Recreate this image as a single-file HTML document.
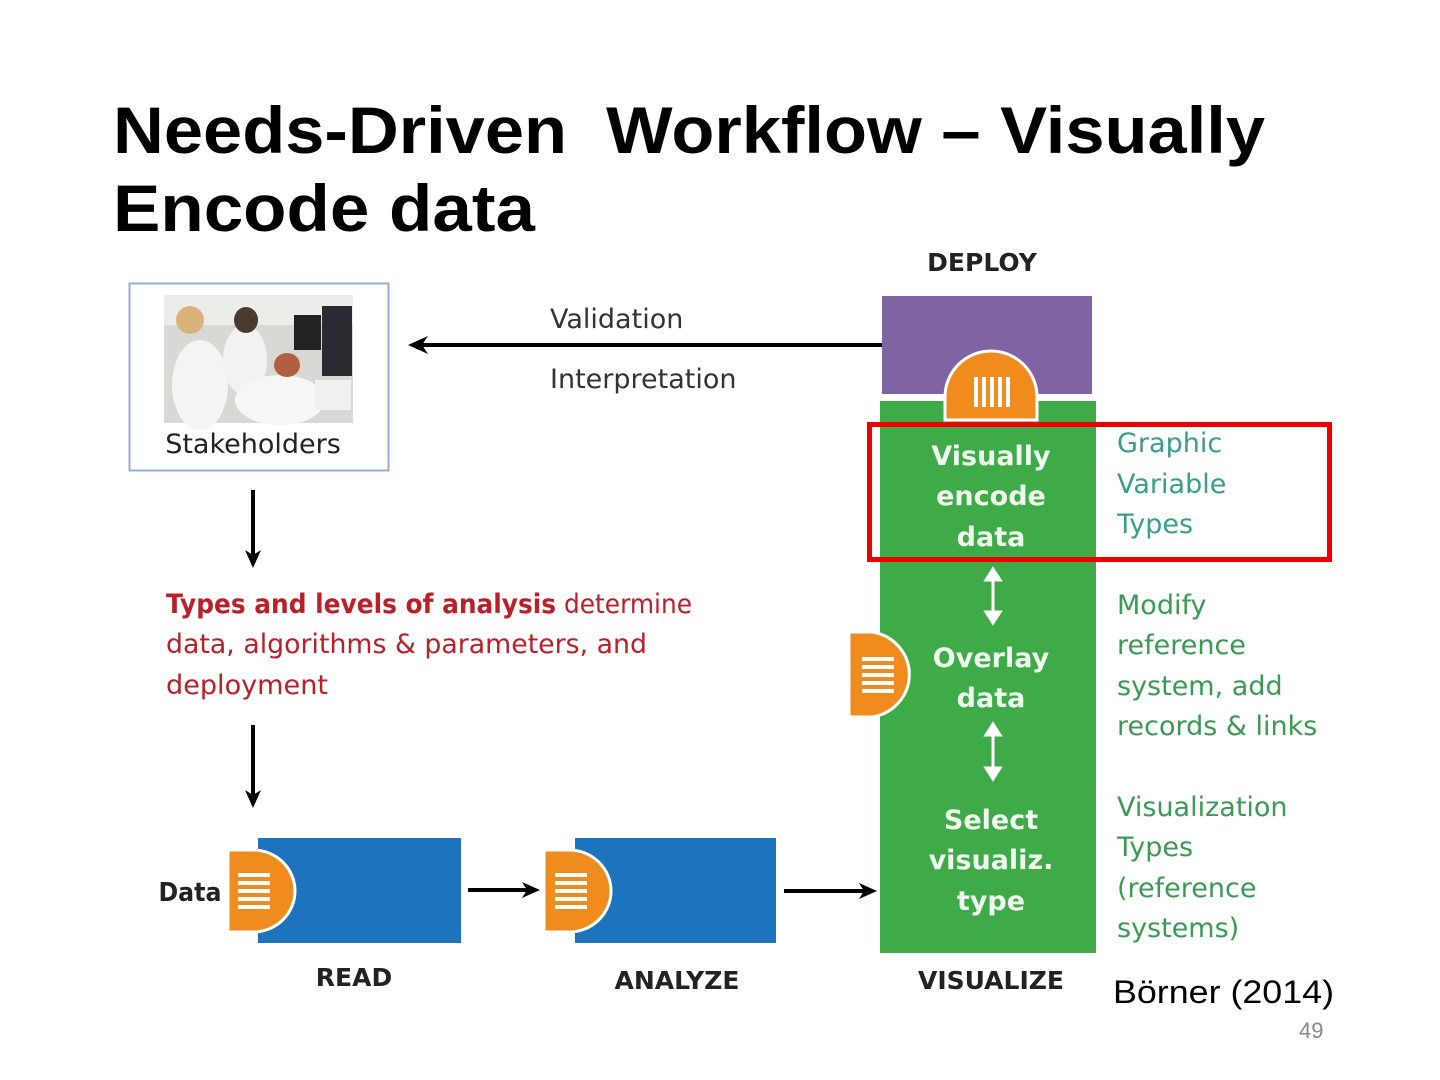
<!DOCTYPE html>
<html><head><meta charset="utf-8"><style>
html,body{margin:0;padding:0;background:#fff;}
svg{display:block}
text{font-family:"DejaVu Sans","Liberation Sans",sans-serif;}
text.t{font-family:"Liberation Sans",sans-serif;}
</style></head><body>
<svg width="1440" height="1080" viewBox="0 0 1440 1080" xmlns="http://www.w3.org/2000/svg">
<!-- title -->
<text class="t" x="113" y="153" font-size="66" font-weight="bold" fill="#000" textLength="1152" lengthAdjust="spacingAndGlyphs">Needs-Driven&#160; Workflow – Visually</text>
<text class="t" x="113" y="231" font-size="66" font-weight="bold" fill="#000" textLength="422" lengthAdjust="spacingAndGlyphs">Encode data</text>

<!-- stakeholders -->
<rect x="129.5" y="283.5" width="259" height="187" fill="#fff" stroke="#8fb0d6" stroke-width="2"/>
<rect x="164" y="295" width="189" height="128" fill="#d8d8d4"/>
<rect x="164" y="295" width="189" height="30" fill="#ecece8"/>
<rect x="294" y="315" width="27" height="35" fill="#222"/>
<rect x="322" y="306" width="30" height="70" fill="#2a2a30"/>
<ellipse cx="200" cy="385" rx="28" ry="45" fill="#f4f4f2"/>
<ellipse cx="190" cy="320" rx="14" ry="14" fill="#d9b47a"/>
<ellipse cx="245" cy="360" rx="22" ry="35" fill="#f2f2f0"/>
<ellipse cx="246" cy="320" rx="12" ry="13" fill="#4a3a30"/>
<ellipse cx="280" cy="400" rx="45" ry="25" fill="#f6f6f4"/>
<ellipse cx="287" cy="365" rx="13" ry="12" fill="#b06040"/>
<rect x="315" y="380" width="36" height="30" fill="#f0f0f0"/>
<text x="253" y="453" font-size="27" fill="#222" text-anchor="middle">Stakeholders</text>

<!-- validation arrow -->
<line x1="882" y1="345" x2="412" y2="345" stroke="#000" stroke-width="4"/>
<path d="M408,345 L428,336 L422,345 L428,354 Z" fill="#000"/>
<text x="550" y="328" font-size="27" fill="#333">Validation</text>
<text x="550" y="388" font-size="27" fill="#333">Interpretation</text>

<!-- deploy -->
<text x="982" y="271" font-size="25" font-weight="bold" fill="#222" text-anchor="middle">DEPLOY</text>
<rect x="882" y="296" width="210" height="98" fill="#8063a3"/>
<rect x="880" y="401" width="216" height="552" fill="#3fab48"/>
<path d="M945,420 L945,397 A46,46 0 0 1 1037,397 L1037,420 Z" fill="#f08b1d" stroke="#fff" stroke-width="3"/>
<g fill="#fff"><rect x="974" y="377" width="4" height="30"/><rect x="982" y="377" width="4" height="30"/><rect x="990" y="377" width="4" height="30"/><rect x="998" y="377" width="4" height="30"/><rect x="1006" y="377" width="4" height="30"/></g>

<g font-size="27" font-weight="bold" fill="#eef8ee" text-anchor="middle">
<text x="991" y="465">Visually</text><text x="991" y="505">encode</text><text x="991" y="546">data</text>
<text x="991" y="667">Overlay</text><text x="991" y="707">data</text>
<text x="991" y="829">Select</text><text x="991" y="869">visualiz.</text><text x="991" y="910">type</text>
</g>
<g stroke="#fff" stroke-width="3" fill="#fff">
<line x1="993" y1="578" x2="993" y2="614"/><path d="M986,580 L993,569 L1000,580Z"/><path d="M986,612 L993,623 L1000,612Z"/>
<line x1="993" y1="733" x2="993" y2="770"/><path d="M986,735 L993,724 L1000,735Z"/><path d="M986,768 L993,779 L1000,768Z"/>
</g>
<path d="M849,632 L872,632 A44,43 0 0 1 872,717 L849,717 Z" fill="#f08b1d" stroke="#fff" stroke-width="3"/>
<g fill="#fff"><rect x="862" y="657" width="32" height="4"/><rect x="862" y="665" width="32" height="4"/><rect x="862" y="673" width="32" height="4"/><rect x="862" y="681" width="32" height="4"/><rect x="862" y="689" width="32" height="4"/></g>
<text x="991" y="989" font-size="25" font-weight="bold" fill="#222" text-anchor="middle">VISUALIZE</text>

<!-- right texts -->
<g font-size="27" fill="#3b9a55">
<text x="1117" y="452" fill="#3a9d8e">Graphic</text><text x="1117" y="493" fill="#3a9d8e">Variable</text><text x="1117" y="533" fill="#3a9d8e">Types</text>
<text x="1117" y="614">Modify</text><text x="1117" y="654">reference</text><text x="1117" y="695">system, add</text><text x="1117" y="735">records &amp; links</text>
<text x="1117" y="816">Visualization</text><text x="1117" y="856">Types</text><text x="1117" y="897">(reference</text><text x="1117" y="937">systems)</text>
</g>
<rect x="869.5" y="424.5" width="460" height="135" fill="none" stroke="#ee0000" stroke-width="5"/>

<!-- down arrows -->
<line x1="253" y1="490" x2="253" y2="560" stroke="#000" stroke-width="4"/><path d="M253,568 L245,550 L253,555 L261,550Z" fill="#000"/>
<line x1="253" y1="725" x2="253" y2="800" stroke="#000" stroke-width="4"/><path d="M253,808 L245,790 L253,795 L261,790Z" fill="#000"/>

<g font-size="27" fill="#b8202a">
<text x="166" y="613" textLength="526" lengthAdjust="spacingAndGlyphs"><tspan font-weight="bold">Types and levels of analysis</tspan> determine</text>
<text x="166" y="653" textLength="481" lengthAdjust="spacingAndGlyphs">data, algorithms &amp; parameters, and</text>
<text x="166" y="694" textLength="162" lengthAdjust="spacingAndGlyphs">deployment</text>
</g>

<!-- READ -->
<rect x="258" y="838" width="203" height="105" fill="#1e73be"/>
<path d="M228,850 L253,850 A42,41 0 0 1 253,932 L228,932 Z" fill="#f08b1d" stroke="#fff" stroke-width="3"/>
<g fill="#fff"><rect x="238" y="873" width="32" height="4"/><rect x="238" y="881" width="32" height="4"/><rect x="238" y="889" width="32" height="4"/><rect x="238" y="897" width="32" height="4"/><rect x="238" y="905" width="32" height="4"/></g>
<text x="190" y="901" font-size="26" font-weight="bold" fill="#222" text-anchor="middle" textLength="63" lengthAdjust="spacingAndGlyphs">Data</text>
<text x="354" y="986" font-size="25" font-weight="bold" fill="#222" text-anchor="middle">READ</text>
<line x1="468" y1="890" x2="530" y2="890" stroke="#000" stroke-width="4"/><path d="M540,890 L522,882 L527,890 L522,898Z" fill="#000"/>

<!-- ANALYZE -->
<rect x="575" y="838" width="201" height="105" fill="#1e73be"/>
<path d="M544,850 L569,850 A42,41 0 0 1 569,932 L544,932 Z" fill="#f08b1d" stroke="#fff" stroke-width="3"/>
<g fill="#fff"><rect x="555" y="873" width="32" height="4"/><rect x="555" y="881" width="32" height="4"/><rect x="555" y="889" width="32" height="4"/><rect x="555" y="897" width="32" height="4"/><rect x="555" y="905" width="32" height="4"/></g>
<text x="677" y="989" font-size="25" font-weight="bold" fill="#222" text-anchor="middle">ANALYZE</text>
<line x1="784" y1="891" x2="866" y2="891" stroke="#000" stroke-width="4"/><path d="M877,891 L859,883 L864,891 L859,899Z" fill="#000"/>

<text class="t" x="1113" y="1003" font-size="32" fill="#000" textLength="221" lengthAdjust="spacingAndGlyphs">Börner (2014)</text>
<text class="t" x="1299" y="1038" font-size="22" fill="#888">49</text>
</svg>
</body></html>
